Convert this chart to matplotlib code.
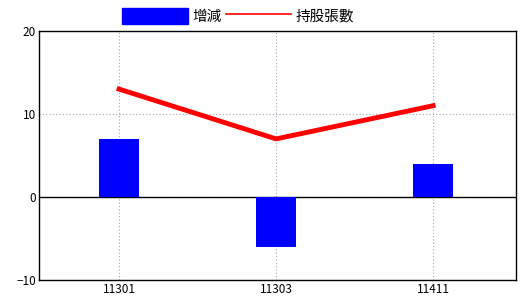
import matplotlib
matplotlib.use("Agg")
import matplotlib.pyplot as plt
import matplotlib.patches as mpatches
from matplotlib.lines import Line2D

plt.rcParams['font.family'] = ['Noto Sans CJK TC', 'DejaVu Sans']

# data
periods = ["11301", "11303", "11411"]
change = [7, -6, 4]
holdings = [13, 7, 11]

fig = plt.figure(figsize=(5.2, 3.0), dpi=100)
ax = fig.add_axes([39 / 520, 1 - 280 / 300, 477 / 520, 249 / 300])

x = list(range(len(periods)))
ax.bar(x, change, width=0.25, color="#0000ff", zorder=3)
ax.plot(x, holdings, color="#ff0000", linewidth=3.5, zorder=4)
ax.axhline(0, color="black", linewidth=1, zorder=2)

ax.set_xlim(-0.51, 2.528)
ax.set_ylim(-10, 20)
ax.set_yticks([-10, 0, 10, 20])
ax.set_xticks(x)
ax.set_xticklabels(periods)
ax.tick_params(length=0, labelsize=8.5, pad=2)
ax.grid(True, color="#a0a8b8", linestyle=(0, (1, 2)), linewidth=0.8, zorder=1)
for s in ax.spines.values():
    s.set_linewidth(1)

# legend drawn above the plot
handles = [mpatches.Patch(color="#0000ff", label="增減"),
           Line2D([], [], color="#ff0000", linewidth=1.2, label="持股張數")]
fig.legend(handles=handles, loc="center", bbox_to_anchor=(238 / 520, 1 - 16 / 300),
           ncol=2, frameon=False, fontsize=10.5, handlelength=4.5, handleheight=1.3,
           handletextpad=0.3, columnspacing=0.3, borderpad=0)

fig.savefig("out.png", dpi=100)
